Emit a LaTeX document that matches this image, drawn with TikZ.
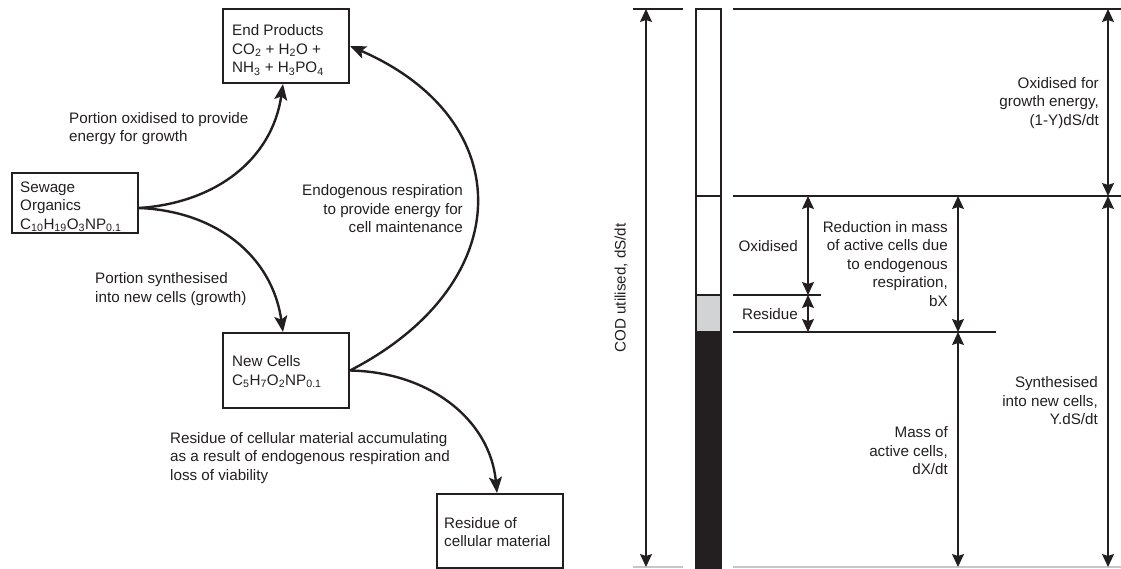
\documentclass[tikz,border=0pt]{standalone}
\usepackage{fontspec}
\setmainfont{Liberation Sans}
\usetikzlibrary{arrows.meta}
\definecolor{ink}{RGB}{35,31,32}
\definecolor{resgray}{RGB}{209,211,212}
\newcommand\sbs[1]{\textsubscript{#1}}
\begin{document}
\begin{tikzpicture}[x=1pt,y=-1pt, font=\fontsize{15.2}{18.5}\selectfont, text=ink,
 box/.style={draw=ink, line width=2pt, minimum width=126pt, minimum height=74pt, inner sep=0pt, anchor=north west},
 flow/.style={draw=ink, line width=2.4pt, -{Stealth[length=16pt,width=13pt,inset=3.5pt]}},
 lbl/.style={inner sep=0pt, align=left, anchor=west},
 rlbl/.style={inner sep=0pt, align=right, anchor=east},
 dim/.style={draw=ink, line width=1.3pt, {Stealth[length=13pt,width=12pt,inset=2pt]}-{Stealth[length=13pt,width=12pt,inset=2pt]}},
 tick/.style={draw=ink, line width=1.3pt},
 cut/.style={draw=ink!25, line width=1.2pt},
]
\useasboundingbox (0,0) rectangle (1121,568);
% ---------- left: flow diagram ----------
\node[box] (end) at (222,8) {};
\node[box, minimum height=60pt] (sew) at (11,172) {};
\node[box, minimum height=75pt] (new) at (222,332) {};
\node[box, minimum height=74pt] (res) at (436,493) {};

\node[lbl] (endt) at (232,50) {End Products\\CO\sbs{2} + H\sbs{2}O +\\NH\sbs{3} + H\sbs{3}PO\sbs{4}};
\node[lbl] (sewt) at (20,206.5) {Sewage\\Organics\\C\sbs{10}H\sbs{19}O\sbs{3}NP\sbs{0.1}};
\node[lbl] (newt) at (232,372) {New Cells\\C\sbs{5}H\sbs{7}O\sbs{2}NP\sbs{0.1}};
\node[lbl] (rest) at (444,532) {Residue of\\cellular material};

\draw[flow] ([yshift=-5pt]sew.east) .. controls (215,203) and (272,160) .. ([xshift=-3pt]end.south);
\draw[flow] ([yshift=-5pt]sew.east) .. controls (215,211) and (272,255) .. ([xshift=-3pt]new.north);
\draw[flow] (new.east) .. controls (518,284) and (520,120) .. (end.east);
\draw[flow] (new.east) .. controls (430,372) and (490,420) .. ([xshift=-3pt]res.north);

\node[lbl] (l1) at (69,128.5) {Portion oxidised to provide\\energy for growth};
\node[rlbl] (l2) at (463,209) {Endogenous respiration\\to provide energy for\\cell maintenance};
\node[lbl] (l3) at (95,289) {Portion synthesised\\into new cells (growth)};
\node[lbl] (l4) at (170,458) {Residue of cellular material accumulating\\as a result of endogenous respiration and\\loss of viability};

% ---------- right: COD bar ----------
\draw[tick, fill=white] (696,9) rectangle (721,295);
\draw[tick] (696,196) -- (721,196);
\draw[tick, fill=resgray] (696,295) rectangle (721,332);
\draw[tick, fill=ink] (696,332) rectangle (721,572);

\draw[tick] (633,9) -- (683,9);
\draw[tick] (733,9) -- (1121,9);
\draw[tick] (733,196) -- (1121,196);
\draw[tick] (733,295) -- (821,295);
\draw[tick] (733,332) -- (996,332);
\draw[cut] (633,567) -- (683,567);
\draw[cut] (733,567) -- (1121,567);

\coordinate (a0) at (646,9);   \coordinate (a1) at (646,567);
\coordinate (c0) at (1108,9);  \coordinate (c1) at (1108,196); \coordinate (c2) at (1108,567);
\coordinate (d0) at (808,196); \coordinate (d1) at (808,295);  \coordinate (d2) at (808,332);
\coordinate (e0) at (958,196); \coordinate (e1) at (958,332);  \coordinate (e2) at (958,567);

\draw[dim] (a0) -- (a1);
\draw[dim] (c0) -- (c1);
\draw[dim] (c1) -- (c2);
\draw[dim] (d0) -- (d1);
\draw[dim] (d1) -- (d2);
\draw[dim] (e0) -- (e1);
\draw[dim] (e1) -- (e2);

\node[rotate=90, inner sep=0pt] (cod) at (621,288) {COD utilised, dS/dt};
\node[rlbl] (r1) at (1099,103) {Oxidised for\\growth energy,\\(1-Y)dS/dt};
\node[rlbl] (r2) at (798,246) {Oxidised};
\node[rlbl] (r3) at (948,264) {Reduction in mass\\of active cells due\\to endogenous\\respiration,\\bX};
\node[rlbl] (r4) at (798,314) {Residue};
\node[rlbl] (r5) at (1098,401) {Synthesised\\into new cells,\\Y.dS/dt};
\node[rlbl] (r6) at (948,451) {Mass of\\active cells,\\dX/dt};
\end{tikzpicture}
\end{document}
